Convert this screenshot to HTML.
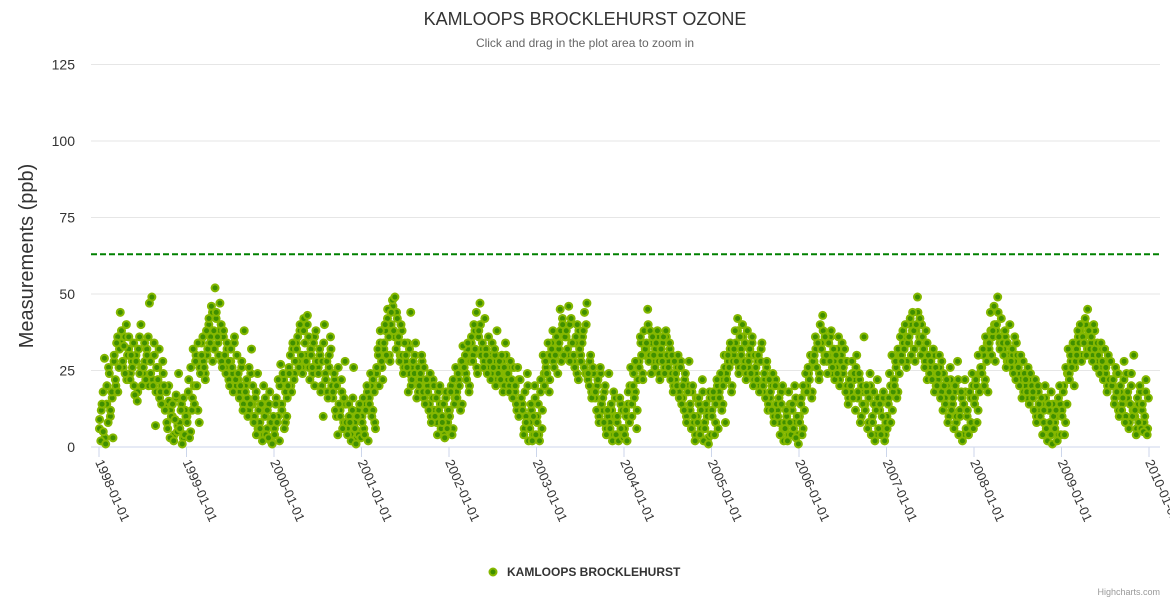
<!DOCTYPE html>
<html><head><meta charset="utf-8"><style>
body{margin:0;background:#fff;font-family:"Liberation Sans",Arial,sans-serif}
svg{display:block}
</style></head><body>
<svg id="chart" width="1170" height="600" xmlns="http://www.w3.org/2000/svg">
<text x="585" y="25" text-anchor="middle" font-size="18" fill="#333">KAMLOOPS BROCKLEHURST OZONE</text>
<text x="585" y="47" text-anchor="middle" font-size="12" fill="#666">Click and drag in the plot area to zoom in</text>
<text transform="translate(33,256) rotate(-90)" text-anchor="middle" font-size="20" fill="#333">Measurements (ppb)</text>
<g id="grid"></g>
<g id="xaxis"></g>
<g id="points"></g>
<g>
<circle cx="493" cy="572" r="3.5" fill="#3f8f00" stroke="#85b800" stroke-width="2"/>
<text x="507" y="576" font-size="12" font-weight="bold" fill="#333">KAMLOOPS BROCKLEHURST</text>
</g>
<text x="1160" y="595" text-anchor="end" font-size="9" fill="#999">Highcharts.com</text>
</svg>
<script>
const yTicks=[0,25,50,75,100,125];
const xTickLabels=["1998-01-01","1999-01-01","2000-01-01","2001-01-01","2002-01-01","2003-01-01","2004-01-01","2005-01-01","2006-01-01","2007-01-01","2008-01-01","2009-01-01","2010-01-01"];
const thresholdValue=63;
const years=[1998,1999,2000,2001,2002,2003,2004,2005,2006,2007,2008,2009];
const y1998=[9,2,14,5,29,1,20,8,24,12,18,3,30,22,34,18,26,44,38,28,33,24,40,30,36,22,30,26,34,17,28,15,32,24,40,20,26,34,22,30,36,47,24,49,20,30,7,26,22,32,18,14,28,20,12,18,6,15,3,10,14,2,9,17,5,24,6,12,1,16,4,10];
const y1999=[8,18,3,26,12,32,14,28,20,34,8,24,30,36,26,22,38,32,42,34,46,28,38,52,44,36,30,47,40,26,38,30,24,34,28,20,32,26,18,36,22,30,24,16,20,28,12,38,18,22,10,26,14,32,20,8,16,4,24,12,6,14,2,20,10,4,12,3,18,8,1,10];
const y2000=[4,14,8,22,2,27,12,24,6,18,10,20,24,30,18,34,22,28,32,36,26,40,30,24,42,34,28,43,36,22,30,26,34,20,38,28,24,32,18,28,10,40,22,28,16,30,36,20,18,24,12,20,4,14,10,22,6,16,28,8,4,14,8,2,12,26,6,1,10,4,14,3];
const y2001=[8,16,4,12,20,2,14,24,10,22,18,6,26,32,20,38,28,22,34,40,30,45,36,28,44,48,38,49,32,42,36,28,40,30,24,34,30,26,18,32,44,22,28,24,34,16,26,20,24,30,18,26,14,22,18,12,24,8,16,20,10,16,4,12,20,6,8,14,3,18,6,12];
const y2002=[10,18,4,22,14,26,16,24,20,12,28,33,26,30,22,34,18,28,36,28,40,32,44,24,38,47,30,34,26,42,30,24,36,28,22,34,26,32,20,38,24,28,22,30,18,26,34,24,24,18,28,22,16,26,20,14,26,10,22,16,12,4,18,8,24,2,6,14,2,10,20,4];
const y2003=[8,14,2,22,6,30,20,28,24,34,18,30,32,38,26,30,36,24,34,45,28,40,30,36,38,32,46,28,42,34,30,26,36,40,22,32,28,34,38,44,24,47,24,20,30,16,26,18,18,12,22,8,26,14,16,8,20,4,12,24,6,14,2,18,10,4,10,2,16,6,12,3];
const y2004=[4,12,2,18,8,26,10,20,16,28,6,22,26,36,30,22,38,32,34,45,28,38,24,36,30,26,34,38,28,22,32,28,36,24,38,30,26,34,22,30,18,28,24,20,30,16,26,14,20,12,24,8,18,28,14,6,20,10,2,16,8,16,4,12,22,2,6,14,10,1,18,4];
const y2005=[10,18,4,14,22,6,16,24,12,20,30,8,22,30,26,34,18,28,32,38,28,42,24,36,30,40,26,34,22,38,28,32,24,36,20,30,26,22,30,18,28,34,20,24,16,28,12,22,18,12,24,8,20,14,10,16,4,14,20,2,6,12,2,18,8,4,14,6,20,3,10,1];
const y2006=[8,14,4,20,12,24,18,26,22,30,16,28,30,36,26,34,22,40,32,43,28,36,30,24,34,28,38,26,32,22,30,24,36,20,28,34,26,32,18,28,14,22,20,28,16,24,12,30,18,24,8,20,14,36,12,20,6,16,24,4,8,18,2,12,22,6,14,4,10,18,2,8];
const y2007=[6,14,24,8,30,18,20,28,16,32,24,36,28,38,32,40,26,34,36,42,30,44,38,28,40,49,34,42,30,36,32,26,38,22,30,24,28,22,32,18,26,20,24,30,16,28,12,20,14,22,8,18,26,12,16,6,20,10,28,4,10,18,2,14,22,6,12,4,18,8,24,6];
const y2008=[14,22,8,30,18,26,24,32,20,36,28,18,34,44,30,38,46,28,40,49,36,32,42,34,30,38,26,34,28,40,28,32,24,36,22,30,26,20,30,16,28,24,22,18,26,14,24,20,18,12,22,8,20,14,10,16,4,12,20,6,2,14,8,18,1,10,6,12,2,16,20,4];
const y2009=[10,18,4,26,14,32,22,30,26,34,20,28,30,38,34,40,28,36,34,42,30,45,38,32,36,28,40,32,26,34,30,24,34,28,22,32,26,18,30,22,28,20,22,14,26,18,24,10,20,12,16,28,8,24,18,6,14,24,10,30,12,4,16,8,20,6,14,5,10,22,4,16];
const z1998=[6,12,18,3,14,26,10,16,28,20,36,32,34,26,36,22,32,24,28,20,30,18,36,26,24,28,32,20,28,22,34,18,26,16,20,24,14,8,20,12,10,4,16,7,8,14,3,12];
const z1999=[10,22,5,16,20,30,12,26,34,28,24,30,40,36,44,32,42,34,38,28,36,26,32,22,28,24,34,20,22,18,26,14,20,16,12,24,14,10,18,6,8,12,4,16,6,14,2,9];
const z2000=[6,16,10,20,14,22,8,16,26,20,32,24,34,28,38,26,38,30,40,26,32,24,36,28,26,30,20,34,24,18,26,32,16,22,10,26,12,18,8,14,6,10,4,16,8,3,12,5];
const z2001=[10,6,14,18,16,20,12,8,24,30,34,26,32,38,42,30,40,46,36,44,34,30,38,26,28,34,24,20,26,30,22,18,22,28,16,20,20,14,10,22,12,8,18,14,10,5,16,8];
const z2002=[12,20,6,16,18,22,26,14,28,24,32,20,34,30,38,26,36,40,32,28,32,26,30,24,28,30,22,26,24,28,20,30,22,20,26,18,18,12,22,14,14,6,10,20,8,12,4,16];
const z2003=[10,4,18,12,24,26,30,22,34,28,32,36,32,38,42,30,36,30,40,34,28,34,24,38,30,36,26,40,22,28,18,24,16,20,10,24,12,18,6,10,8,12,4,16,8,4,14,6];
const z2004=[6,10,14,20,14,24,18,12,28,34,24,30,32,40,30,34,28,32,36,24,30,34,26,36,28,32,24,20,22,26,18,28,16,22,10,20,12,18,8,4,10,14,6,18,8,12,3,16];
const z2005=[12,16,8,20,18,22,14,26,24,28,32,20,30,34,38,26,32,36,28,24,26,30,34,22,24,28,20,32,18,22,26,14,16,20,10,22,12,8,18,6,8,10,4,14,12,8,16,4];
const z2006=[10,16,6,18,20,24,26,18,28,32,34,24,34,38,30,28,30,36,24,28,26,32,22,30,24,28,20,16,18,24,22,26,16,22,10,18,14,18,8,20,10,14,4,16,12,6,16,4];
const z2007=[10,16,20,12,22,26,18,30,30,34,36,28,34,40,38,32,38,44,36,40,30,28,34,26,26,24,30,20,22,26,18,24,16,20,10,22,14,18,8,22,12,16,4,18,10,6,16,20];
const z2008=[16,20,12,24,26,30,22,34,32,38,36,40,38,44,34,36,32,36,28,30,26,30,28,34,24,22,28,18,20,16,24,22,16,20,10,18,12,14,8,16,6,12,4,14,8,10,4,14];
const z2009=[12,20,8,24,24,28,30,26,32,36,38,30,36,40,32,38,34,30,38,28,28,26,32,24,24,20,28,22,20,16,24,12,18,14,22,10,16,8,20,12,10,6,14,18,12,8,18,6];
const seriesByYear=[y1998,y1999,y2000,y2001,y2002,y2003,y2004,y2005,y2006,y2007,y2008,y2009];
const extraByYear=[z1998,z1999,z2000,z2001,z2002,z2003,z2004,z2005,z2006,z2007,z2008,z2009];

const NS="http://www.w3.org/2000/svg";
const plotL=91,plotR=1160,x0=99,x1=1149,yBase=447,yTopPx=64.5;
function xScale(yearFrac){return x0+(yearFrac-1998)/12*(x1-x0);}
function yScale(v){return yBase-(v/125)*(yBase-yTopPx);}
function mk(tag,attrs,parent){const e=document.createElementNS(NS,tag);for(const k in attrs)e.setAttribute(k,attrs[k]);parent.appendChild(e);return e;}

const grid=document.getElementById('grid');
yTicks.forEach(t=>{
  const y=yScale(t);
  const l=mk('line',{x1:plotL,x2:plotR,y1:y,y2:y,stroke:t===0?'#ccd6eb':'#e6e6e6','stroke-width':1},grid);
  
  
  const tx=mk('text',{x:75,y:y+5,'text-anchor':'end','font-size':14,fill:'#333'},grid);
  tx.textContent=t;
  
  
});
const th=mk('line',{x1:plotL,x2:plotR,y1:yScale(thresholdValue),y2:yScale(thresholdValue),stroke:'#008000','stroke-width':2,'stroke-dasharray':'6,3'},grid);



const xa=document.getElementById('xaxis');
xTickLabels.forEach((lab,i)=>{
  const x=xScale(1998+i);
  const l=mk('line',{x1:x,x2:x,y1:yBase,y2:yBase+10,stroke:'#ccd6eb'},xa);
  
  
  const t=mk('text',{transform:`translate(${x-4},${yBase+15}) rotate(66)`,'font-size':13,fill:'#333'},xa);
  t.textContent=lab;
  
  
});

const pg=document.getElementById('points');
function drawSet(sets,offset){
  sets.forEach((arr,yi)=>{
    arr.forEach((v,i)=>{
      const c=mk('circle',{cx:xScale(years[yi]+(i+offset)/arr.length),cy:yScale(v),r:3.5,fill:'#3f8f00',stroke:'#85b800','stroke-width':2},pg);
      
      
    });
  });
}
drawSet(extraByYear,0.25);
drawSet(seriesByYear,0.5);
</script>
</body></html>
